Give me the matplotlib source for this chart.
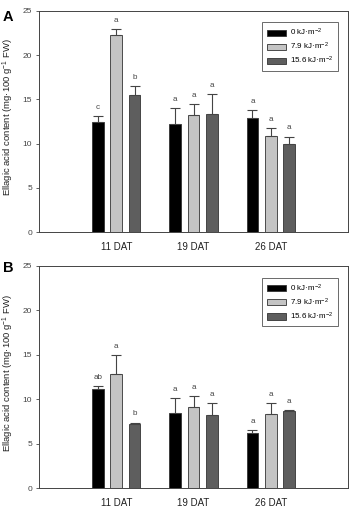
import matplotlib
matplotlib.use("Agg")
import matplotlib.pyplot as plt
import numpy as np

groups = ["11 DAT", "19 DAT", "26 DAT"]
series = ["0 kJ·m$^{-2}$", "7.9 kJ·m$^{-2}$", "15.6 kJ·m$^{-2}$"]
colors = ["#000000", "#c4c4c4", "#5e5e5e"]

# Panel A
a_vals = [[12.45, 12.2, 12.85], [22.25, 13.25, 10.9], [15.5, 13.4, 9.95]]
a_err = [[0.68, 1.8, 0.95], [0.68, 1.2, 0.83], [0.98, 2.15, 0.83]]
a_let = [["c", "a", "a"], ["a", "a", "a"], ["b", "a", "a"]]

# Panel B
b_vals = [[11.15, 8.5, 6.25], [12.9, 9.1, 8.38], [7.22, 8.27, 8.64]]
b_err = [[0.32, 1.6, 0.3], [2.05, 1.28, 1.17], [0.15, 1.28, 0.15]]
b_let = [["ab", "a", "a"], ["a", "a", "a"], ["b", "a", "a"]]

plt.rcParams['font.family'] = ['Liberation Sans', 'DejaVu Sans']
plt.rcParams['mathtext.fontset'] = 'custom'
plt.rcParams['mathtext.rm'] = 'Liberation Sans'
plt.rcParams['mathtext.default'] = 'regular'

fig = plt.figure(figsize=(3.51, 5.11), dpi=100)
W, H = 351, 511

def make_ax(top_px, bot_px):
    left, right = 39, 348
    return fig.add_axes([left / W, (H - bot_px) / H, (right - left) / W, (bot_px - top_px) / H])

axA = make_ax(10.7, 232.3)
axB = make_ax(266, 488.3)

x = np.arange(1, len(groups) + 1)
width = 0.152
step = 0.237
edge = "#333333"

for ax, vals, errs, lets, tag, tagy in [(axA, a_vals, a_err, a_let, "A", 0.973),
                                         (axB, b_vals, b_err, b_let, "B", 0.993)]:
    for i in range(3):
        xi = x + (i - 1) * step
        ax.bar(xi, vals[i], width=width, color=colors[i], edgecolor=edge, linewidth=0.6,
               label=series[i], zorder=2)
        ax.errorbar(xi, vals[i], yerr=[np.zeros(3), errs[i]], fmt="none", ecolor="#444444",
                    elinewidth=0.8, capsize=3.5, capthick=0.8, zorder=3)
        for j in range(3):
            ax.text(xi[j], vals[i][j] + errs[i][j] + 0.6, lets[i][j], ha="center", va="bottom",
                    fontsize=5.8, color="#444444")
    ax.set_xlim(0, 4)
    ax.set_ylim(0, 25)
    ax.set_yticks([0, 5, 10, 15, 20, 25])
    ax.set_xticks(x)
    ax.set_xticklabels(groups, fontsize=7, color="#222222")
    ax.tick_params(axis="x", length=0, pad=7)
    ax.tick_params(axis="y", labelsize=6, length=2.5, width=0.6, colors="#444444",
                   labelcolor="#444444", pad=2.5)
    for s in ax.spines.values():
        s.set_linewidth(0.7)
        s.set_color("#444444")
    ax.set_ylabel("Ellagic acid content (mg·100 g$^{-1}$ FW)", fontsize=6.8, color="#222222")
    ax.yaxis.set_label_coords(-0.073, 0.52)
    leg = ax.legend(loc="upper right", bbox_to_anchor=(0.98, 0.965), fontsize=5.8, frameon=True,
                    fancybox=False, edgecolor="#444444", handlelength=2.4, handleheight=0.8,
                    borderpad=0.55, labelspacing=0.35, handletextpad=0.5)
    leg.get_frame().set_linewidth(0.7)
    ax.text(-0.118, tagy, tag, transform=ax.transAxes, fontsize=10.5, fontweight="bold",
            ha="left", va="center")

fig.savefig("out.png", dpi=100)
